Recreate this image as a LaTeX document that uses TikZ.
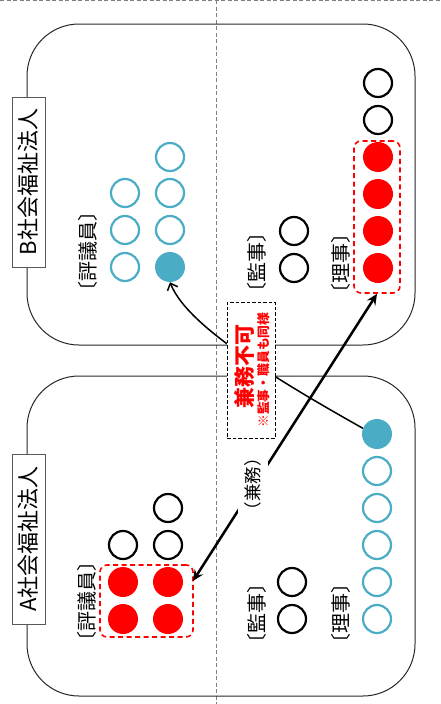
\documentclass[tikz,border=0pt]{standalone}
\usepackage{fontspec}
\setmainfont{Noto Sans CJK JP}
\usetikzlibrary{arrows.meta}
\definecolor{cblue}{HTML}{4BACC6}
\definecolor{boxline}{HTML}{262626}
\definecolor{guide}{HTML}{7F7F7F}
\begin{document}
\begin{tikzpicture}[x=1pt,y=-1pt,
  circ/.style={circle, minimum size=28pt, inner sep=0pt, line width=2.2pt},
  bo/.style={circ, draw=cblue},
  ko/.style={circ, draw=black},
  bf/.style={circle, minimum size=30pt, inner sep=0pt, fill=cblue},
  rf/.style={circle, minimum size=30pt, inner sep=0pt, fill=red},
  corp/.style={draw=boxline, line width=1pt, rounded corners=52pt},
  guideline/.style={draw=guide, line width=0.9pt, dash pattern=on 4pt off 2.5pt},
  namebox/.style={draw=guide!70!black, line width=1pt, fill=white, rotate=90,
    minimum width=170pt, minimum height=33pt, inner sep=0pt,
    font=\fontsize{22}{22}\selectfont},
  rolelbl/.style={rotate=90, inner sep=0pt, font=\fontsize{20}{20}\selectfont},
  redbox/.style={draw=red, line width=1.6pt, dash pattern=on 5pt off 3.5pt,
    rounded corners=7pt, inner sep=0pt},
  callout/.style={draw=black, fill=white, line width=0.9pt, dash pattern=on 3.5pt off 2pt,
    minimum width=48pt, minimum height=136pt, inner sep=0pt},
  redtxt/.style={rotate=90, inner sep=0pt, text=red},
  thick arrow/.style={line width=2.5pt, {Stealth[length=11pt,width=10pt,inset=4pt]}-{Stealth[length=11pt,width=10pt,inset=4pt]}},
  thin arrow/.style={line width=1.5pt, -{Straight Barb[length=6pt,width=11pt]}},
  kenmu/.style={rotate=90, fill=white, inner xsep=1pt, inner ysep=7pt,
    font=\fontsize{17.5}{18}\selectfont}
]
\useasboundingbox (0,0) rectangle (440,704);

% guide lines
\draw[guideline] (0,0.8) -- (440,0.8);
\draw[guideline] (216,0) -- (216,704);

% corporation boxes
\draw[corp] (27,24) rectangle (415,345);
\draw[corp] (27,376) rectangle (415,696);

\node[namebox] (nameB) at (28.5,182) {B社会福祉法人};
\node[namebox] (nameA) at (28.5,539) {A社会福祉法人};

% ---------- B corporation ----------
\node[rolelbl] (lbEval) at (88,251) {〔評議員〕};
\node[rolelbl] (lbAud) at (257,262) {〔監事〕};
\node[rolelbl] (lbDir) at (341,263) {〔理事〕};

\node[bo] (bE1) at (125,193) {};
\node[bo] (bE2) at (125,230) {};
\node[bo] (bE3) at (125,267) {};
\node[bo] (bE4) at (170,157) {};
\node[bo] (bE5) at (170,193) {};
\node[bo] (bE6) at (170,230) {};
\node[bf] (bEf) at (170,267) {};

\node[ko] (bA1) at (294,231) {};
\node[ko] (bA2) at (294,268) {};

\node[ko] (bD1) at (378,83) {};
\node[ko] (bD2) at (378,120) {};
\node[rf] (bD3) at (378,157) {};
\node[rf] (bD4) at (378,194) {};
\node[rf] (bD5) at (378,231) {};
\node[rf] (bD6) at (378,268) {};
\node[redbox, minimum width=46pt, minimum height=152pt] (rB) at (377,217) {};

% ---------- A corporation ----------
\node[rolelbl] (laEval) at (87,601) {〔評議員〕};
\node[rolelbl] (laAud) at (257,613) {〔監事〕};
\node[rolelbl] (laDir) at (341,613) {〔理事〕};

\node[ko] (aE1) at (123,545) {};
\node[ko] (aE2) at (168,508) {};
\node[ko] (aE3) at (168,545) {};
\node[rf] (aE4) at (123,582) {};
\node[rf] (aE5) at (123,619) {};
\node[rf] (aE6) at (168,582) {};
\node[rf] (aE7) at (168,619) {};
\node[redbox, minimum width=93pt, minimum height=72pt] (rA) at (146.5,601) {};

\node[ko] (aA1) at (292,582) {};
\node[ko] (aA2) at (292,619) {};

\node[bf] (aD1) at (377,434) {};
\node[bo] (aD2) at (377,471) {};
\node[bo] (aD3) at (377,508) {};
\node[bo] (aD4) at (377,545) {};
\node[bo] (aD5) at (377,582) {};
\node[bo] (aD6) at (377,619) {};

% ---------- connectors ----------
\draw[thin arrow] (aD1.158) .. controls (250,365) and (185,320) .. (bEf.south);

\node[callout] (cb) at (251,370) {};
\node[redtxt, font=\fontsize{21}{21}\selectfont\bfseries] (cbt1) at (244,366) {兼務不可};
\node[redtxt, font=\fontsize{12.8}{13}\selectfont\bfseries] (cbt2) at (264,370) {※監事・職員も同様};

\coordinate (tA) at (193,581);
\draw[thick arrow] (rB.south) -- (tA);
\node[kenmu] (km) at (253,484) {（兼務）};

\end{tikzpicture}
\end{document}
